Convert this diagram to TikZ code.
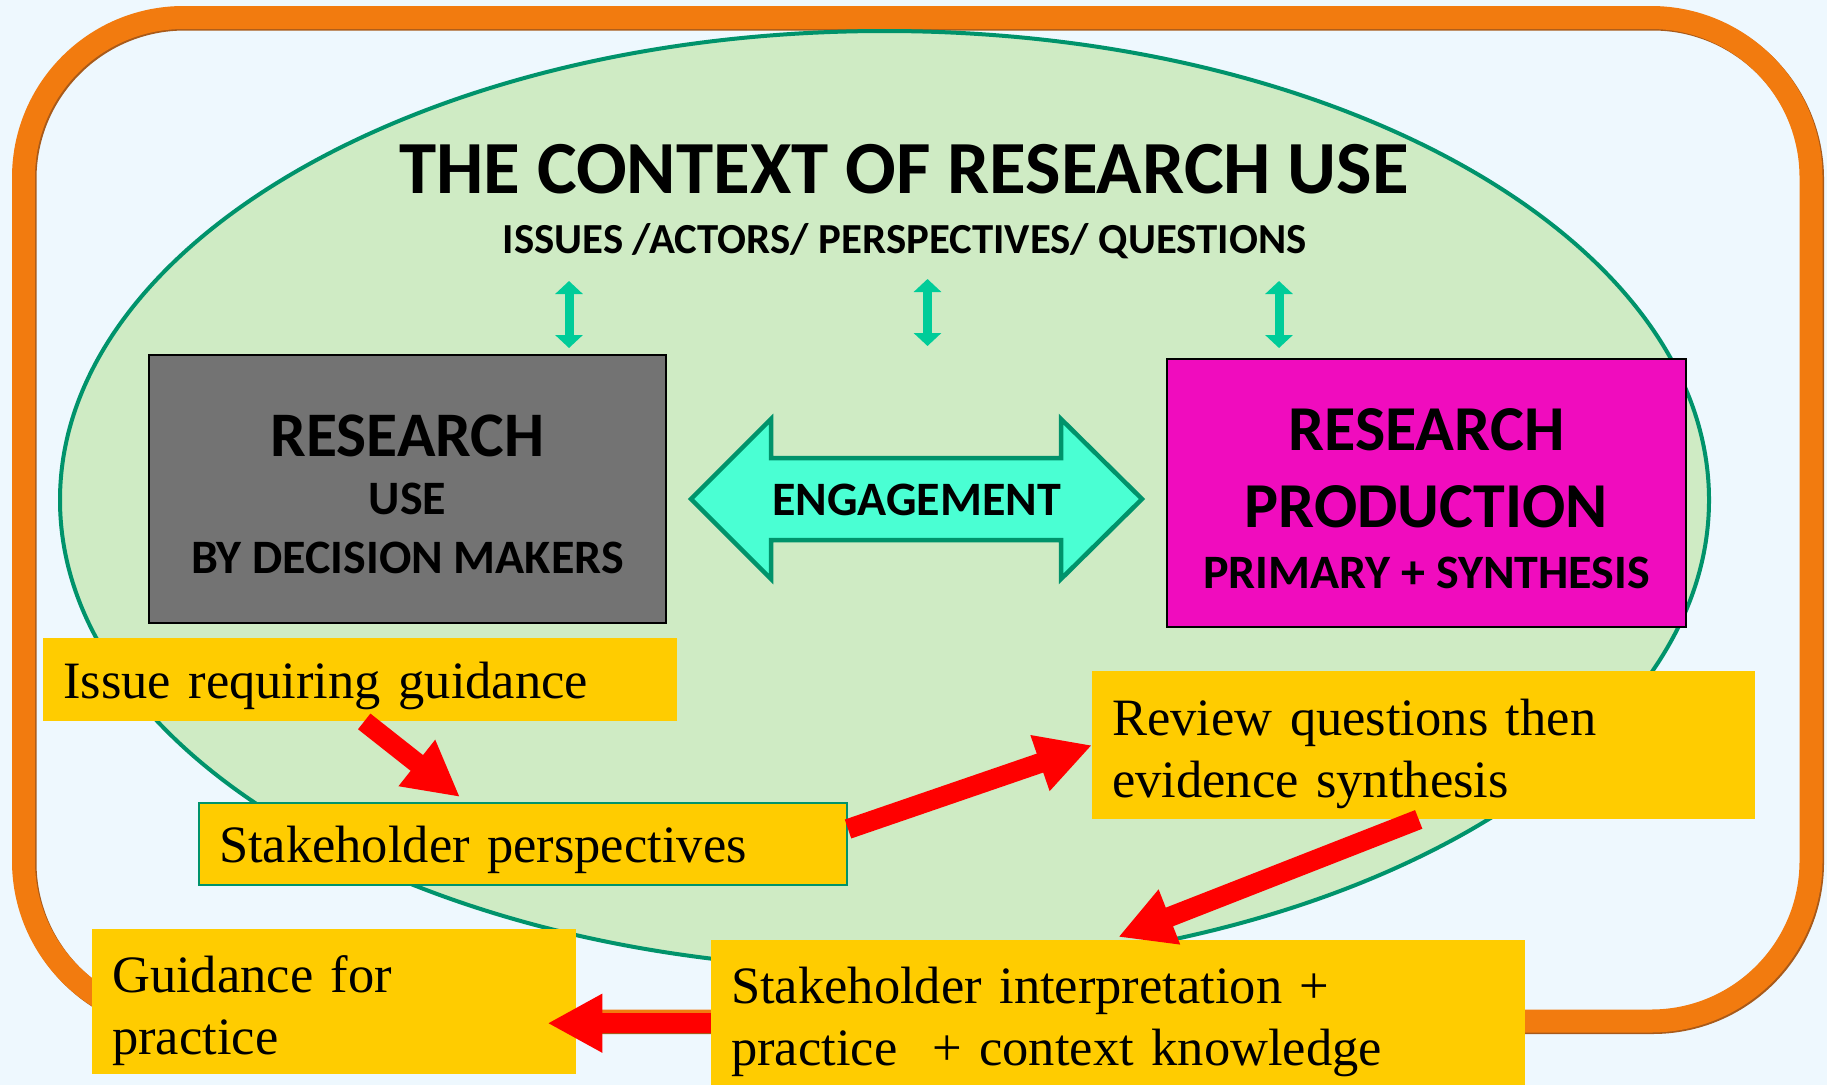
\documentclass[tikz,border=0pt]{standalone}
\usepackage{fontspec}
\setmainfont{Liberation Serif}
\newfontfamily\calib{Carlito}
\usetikzlibrary{arrows.meta,positioning}

\definecolor{skyback}{HTML}{EEF8FE}
\definecolor{frameorange}{HTML}{F27B0F}
\definecolor{frameshade}{HTML}{A85A1A}
\definecolor{ctxgreen}{HTML}{CFEBC4}
\definecolor{ctxline}{HTML}{00936B}
\definecolor{usegray}{HTML}{737373}
\definecolor{prodpink}{HTML}{F00CBE}
\definecolor{engfill}{HTML}{4AFFD3}
\definecolor{linkteal}{HTML}{00CC99}
\definecolor{noteyellow}{HTML}{FFCC00}
\definecolor{flowred}{HTML}{FF0000}

\begin{document}
\begin{tikzpicture}[x=1pt,y=-1pt,
    heavybox/.style={draw=black,line width=2pt,anchor=north west,minimum height=268pt,align=center,font=\calib\bfseries\fontsize{48}{58.5}\selectfont},
    notebox/.style={fill=noteyellow,anchor=north west,align=left,inner xsep=20pt,inner ysep=0pt,font=\fontsize{52.5}{62}\selectfont},
    flowarrow/.style={draw=flowred,line width=20pt,-{Triangle[length=55pt,width=55pt]}},
    linkarrow/.style={draw=linkteal,line width=9pt,{Triangle[length=13pt,width=27pt]}-{Triangle[length=13pt,width=27pt]}}]

        \fill[skyback] (0,0) rectangle (1827,1085);
        \useasboundingbox (0,0) rectangle (1827,1085);

        \draw[frameshade,line width=23pt,rounded corners=160pt] (25,19) rectangle (1812.5,1022.5);
        \draw[frameorange,line width=23pt,rounded corners=160pt] (23.5,17.5) rectangle (1811,1021);

        \draw[ctxline,fill=ctxgreen,line width=4pt] (884.5,500) ellipse [x radius=824.5,y radius=469];

        \node[anchor=base,font=\calib\bfseries\fontsize{75}{90}\selectfont] (title) at (904,193) {THE CONTEXT OF RESEARCH USE};
        \node[anchor=base,font=\calib\bfseries\fontsize{42.8}{50}\selectfont] (topics) at (904.5,253) {ISSUES /ACTORS/ PERSPECTIVES/ QUESTIONS};

        \node[heavybox,fill=usegray,minimum width=517pt] (use) at (148,354) {\rule{0pt}{52pt}{\fontsize{63.5}{63.5}\selectfont RESEARCH}\\ USE\\ BY DECISION MAKERS};
        \node[heavybox,fill=prodpink,minimum width=519pt] (prod) at (1166,358) {\rule{0pt}{54pt}{\fontsize{64}{64}\selectfont RESEARCH}\\[18.5pt] {\fontsize{64}{64}\selectfont PRODUCTION}\\[2.5pt] PRIMARY + SYNTHESIS};

        % engagement arrow
        \draw[ctxline,fill=engfill,line width=4.5pt,line join=miter] (691,499) -- (771,419) -- (771,458) -- (1061,458) -- (1061,419) -- (1142,499) -- (1061,579) -- (1061,540) -- (771,540) -- (771,579) -- cycle;
        \node[font=\calib\bfseries\fontsize{48}{58}\selectfont] (engage) at (916.5,499.5) {ENGAGEMENT};

        \coordinate (u1) at (569,281);
        \coordinate (u2) at (927.5,279);
        \coordinate (d2) at (927.5,346);
        \coordinate (u3) at (1279,281);
        \draw[linkarrow,shorten >=6pt] (u1) -- (u1 |- use.north);
        \draw[linkarrow] (u2) -- (d2);
        \draw[linkarrow,shorten >=10pt] (u3) -- (u3 |- prod.north);

        \node[notebox,minimum width=634pt,minimum height=83pt,text width=594pt,text height=48pt,text depth=11pt] (issue) at (43,638) {Issue requiring guidance};
        \node[notebox,draw=ctxline,line width=2pt,minimum width=648pt,minimum height=82pt,text width=608pt,text height=48pt,text depth=11pt] (stake) at (198,802) {Stakeholder perspectives};
        \node[notebox,minimum width=663pt,minimum height=148pt,text width=623pt] (review) at (1092,671) {\rule{0pt}{54pt}Review questions then\\ evidence synthesis};
        \node[notebox,minimum width=484pt,minimum height=145pt,text width=444pt] (guide) at (92,929) {\rule{0pt}{54pt}Guidance for\\ practice};
        \node[notebox,minimum width=814pt,minimum height=145pt,text width=774pt] (interp) at (711,940) {\rule{0pt}{54pt}Stakeholder interpretation +\\ practice \ + context knowledge};

        \draw[flowarrow] ([xshift=4pt]issue.south) -- ([xshift=-63pt,yshift=5pt]stake.north);
        \draw[flowarrow] ([yshift=15pt]stake.east) -- (review.west);
        \draw[flowarrow] ([xshift=-5pt]review.south) -- ([yshift=3pt]interp.north);
        \draw[flowarrow] ([yshift=-10.5pt]interp.west) -- ([xshift=-29pt,yshift=-21.5pt]guide.east);

    \end{tikzpicture}
\end{document}
